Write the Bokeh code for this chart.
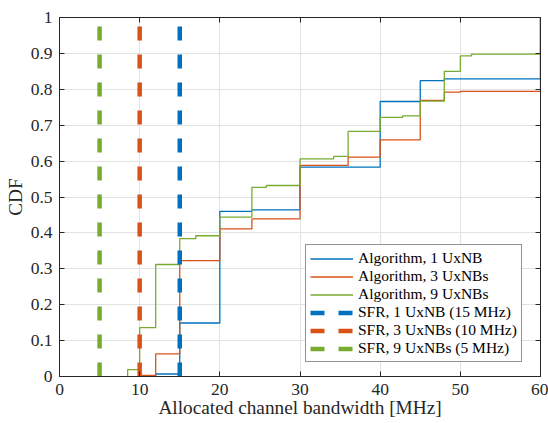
from bokeh.plotting import figure
from bokeh.models import LinearAxis, FixedTicker, Legend, LegendItem, Range1d
from bokeh.embed import file_html
from bokeh.resources import INLINE

# ---- data ----
alg1_x = [12, 12, 15, 20, 24, 30, 40, 45, 48, 60]
alg1_y = [0, 0.007, 0.149, 0.46, 0.464, 0.583, 0.766, 0.824, 0.829, 1.0]
alg3_x = [10, 10, 12, 15, 20, 24, 30, 36, 40, 45, 48, 50, 60]
alg3_y = [0, 0.003, 0.063, 0.323, 0.411, 0.439, 0.588, 0.611, 0.659, 0.769, 0.792, 0.794, 1.0]
alg9_x = [8.5, 8.5, 10, 12, 15, 17, 20, 24, 25.8, 30, 34.2, 36, 40, 42.8, 45, 48, 50, 51.4, 60]
alg9_y = [0, 0.019, 0.136, 0.312, 0.384, 0.392, 0.444, 0.527, 0.532, 0.606, 0.613, 0.683,
          0.722, 0.726, 0.767, 0.850, 0.893, 0.898, 1.0]
alg_labels = ["Algorithm, 1 UxNB", "Algorithm, 3 UxNBs", "Algorithm, 9 UxNBs"]
sfr_bw = [15, 10, 5]
sfr_cdf = [0, 1]
sfr_labels = ["SFR, 1 UxNB (15 MHz)", "SFR, 3 UxNBs (10 MHz)", "SFR, 9 UxNBs (5 MHz)"]
x_ticks = [0, 10, 20, 30, 40, 50, 60]
y_ticks = [0, 0.1, 0.2, 0.3, 0.4, 0.5, 0.6, 0.7, 0.8, 0.9, 1]
y_tick_labels = ["0", "0.1", "0.2", "0.3", "0.4", "0.5", "0.6", "0.7", "0.8", "0.9", "1"]

colors = ["#0072BD", "#D95319", "#77AC30"]
FONT = "Liberation Serif"
AX = "#262626"

p = figure(width=548, height=423, x_range=Range1d(0, 60), y_range=Range1d(0, 1),
           output_backend="svg", toolbar_location=None,
           min_border_left=59, min_border_right=8, min_border_top=17, min_border_bottom=47)
p.background_fill_color = "white"
p.border_fill_color = "white"
p.outline_line_color = AX
p.outline_line_width = 1

# grid
p.xgrid.ticker = FixedTicker(ticks=x_ticks)
p.ygrid.ticker = FixedTicker(ticks=y_ticks)
for g in (p.xgrid, p.ygrid):
    g.grid_line_color = "#e2e2e2"
    g.grid_line_width = 1

def style_axis(ax, ticks):
    ax.ticker = FixedTicker(ticks=ticks)
    ax.axis_line_color = AX
    ax.major_tick_line_color = AX
    ax.major_tick_in = 5
    ax.major_tick_out = 0
    ax.minor_tick_line_color = None
    ax.major_label_text_font = FONT
    ax.major_label_text_color = AX
    ax.major_label_text_font_size = "17.5px"
    ax.axis_label_text_font = FONT
    ax.axis_label_text_font_style = "normal"
    ax.axis_label_text_color = AX
    ax.axis_label_text_font_size = "19.3px"

style_axis(p.xaxis[0], x_ticks)
style_axis(p.yaxis[0], y_ticks)
p.xaxis[0].axis_label = "Allocated channel bandwidth [MHz]"
p.yaxis[0].axis_label = "CDF"
p.yaxis[0].major_label_overrides = {t: s for t, s in zip(y_ticks, y_tick_labels)}
p.xaxis[0].major_label_standoff = 7
p.xaxis[0].axis_label_standoff = -1
p.yaxis[0].major_label_standoff = 7
p.yaxis[0].axis_label_standoff = 2

# box ticks on the right and top sides (tick marks only, no labels)
def box_axis(ticks):
    ax = LinearAxis(ticker=FixedTicker(ticks=[], minor_ticks=ticks))
    ax.axis_line_color = AX
    ax.major_tick_line_color = None
    ax.minor_tick_line_color = AX
    ax.minor_tick_in = 5
    ax.minor_tick_out = 0
    ax.major_label_standoff = 0
    return ax

p.add_layout(box_axis(y_ticks), "right")
p.add_layout(box_axis(x_ticks), "above")

items = []
for xs, ys, c, lab in zip([alg1_x, alg3_x, alg9_x], [alg1_y, alg3_y, alg9_y], colors, alg_labels):
    r = p.step(xs, ys, mode="after", line_color=c, line_width=1.3)
    items.append(LegendItem(label=lab, renderers=[r]))
for bw, c, lab in zip(sfr_bw, colors, sfr_labels):
    r = p.line([bw, bw], sfr_cdf, line_color=c, line_width=4.5, line_dash="14 14")
    items.append(LegendItem(label=lab, renderers=[r]))

legend = Legend(items=items, location=(246, 14))
legend.label_text_font = FONT
legend.label_text_font_size = "15.5px"
legend.label_text_color = "black"
legend.glyph_width = 43
legend.glyph_height = 17
legend.label_height = 17
legend.label_standoff = 5
legend.spacing = 0
legend.padding = 4
legend.margin = 0
legend.border_line_color = AX
legend.border_line_width = 1
legend.background_fill_color = "white"
legend.background_fill_alpha = 1
p.add_layout(legend)

open("out.html", "w").write(file_html(p, INLINE))
